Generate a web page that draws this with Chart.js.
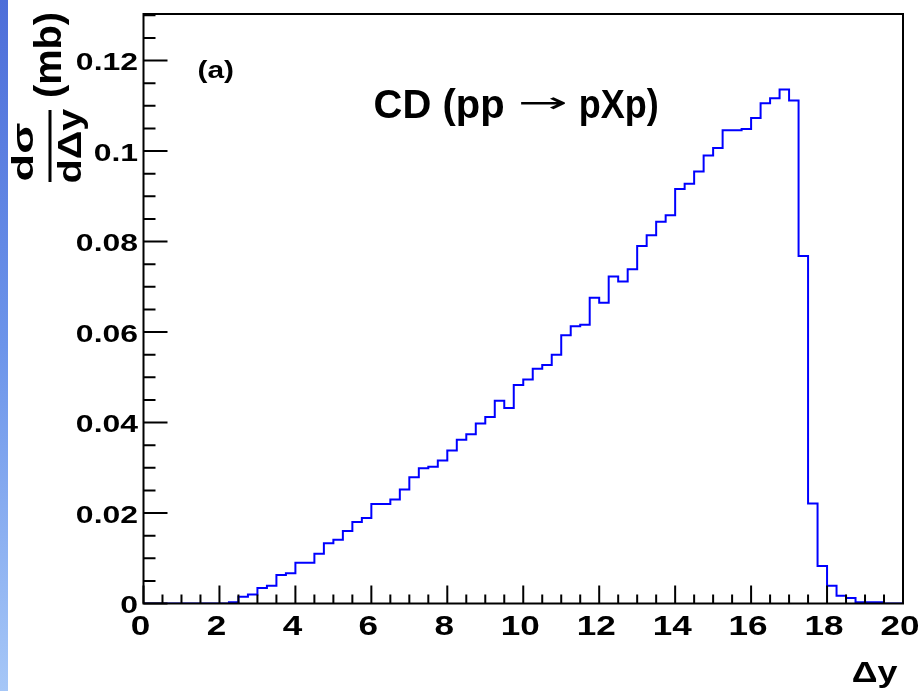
<!DOCTYPE html>
<html><head><meta charset="utf-8">
<script src="https://cdn.jsdelivr.net/npm/chart.js@4/dist/chart.umd.min.js"></script>
<style>
html,body{margin:0;padding:0;background:#fff;}
#wrap{position:relative;width:919px;height:691px;overflow:hidden;background:#fff;}
#strip{position:absolute;left:0;top:0;width:8px;height:691px;background:linear-gradient(to bottom,#4d6ed9,#6c94ea 50%,#a6c7f7);}
canvas{position:absolute;left:0;top:0;}
</style></head><body>
<div id="wrap"><canvas id="c" width="919" height="691" style="width:919px;height:691px"></canvas><div id="strip"></div></div>
<script>
// Histogram bin lower edges (Δy) and dσ/dΔy values (mb)
const binLowEdges = [
  0.00,0.25,0.50,0.75,1.00,1.25,1.50,1.75,2.00,2.25,
  2.50,2.75,3.00,3.25,3.50,3.75,4.00,4.25,4.50,4.75,
  5.00,5.25,5.50,5.75,6.00,6.25,6.50,6.75,7.00,7.25,
  7.50,7.75,8.00,8.25,8.50,8.75,9.00,9.25,9.50,9.75,
  10.00,10.25,10.50,10.75,11.00,11.25,11.50,11.75,12.00,12.25,
  12.50,12.75,13.00,13.25,13.50,13.75,14.00,14.25,14.50,14.75,
  15.00,15.25,15.50,15.75,16.00,16.25,16.50,16.75,17.00,17.25,
  17.50,17.75,18.00,18.25,18.50,18.75,19.00,19.25,19.50,19.75
];
const cdValues = [
  0,0,0,0,0,0,0,0,0,0.0003,
  0.0015,0.0020,0.0034,0.0039,0.0063,0.0067,0.0090,0.0090,0.0110,0.0133,
  0.0141,0.0160,0.0180,0.0189,0.0220,0.0220,0.0230,0.0252,0.0279,0.0299,
  0.0302,0.0316,0.0338,0.0362,0.0374,0.0398,0.0412,0.0448,0.0432,0.0483,
  0.0495,0.0519,0.0527,0.0550,0.0593,0.0613,0.0616,0.0676,0.0665,0.0723,
  0.0712,0.0739,0.0790,0.0814,0.0844,0.0858,0.0916,0.0928,0.0955,0.0990,
  0.1007,0.1046,0.1046,0.1049,0.1073,0.1106,0.1117,0.1136,0.1112,0.0768,
  0.0221,0.0083,0.0039,0.0017,0.0012,0.0003,0.0003,0.0003,0,0
];
const xMin = 0, xMax = 20;
const yMin = 0, yMax = 0.1303;
const xTickValues = [0,2,4,6,8,10,12,14,16,18,20];
const xTickLabels = ["0","2","4","6","8","10","12","14","16","18","20"];
const yTickValues = [0,0.02,0.04,0.06,0.08,0.1,0.12];
const yTickLabels = ["0","0.02","0.04","0.06","0.08","0.1","0.12"];
const titleLeft = "CD (pp";
const titleArrow = "\u2192";
const titleRight = "pXp)";
const panelText = "(a)";
const xTitle = "\u0394y";
const yTitleUnit = "(mb)";
const yTitleNum = "d\u03C3";
const yTitleDen = "d\u0394y";

const FONT = '"Liberation Sans", Arial, Helvetica, sans-serif';

const points = binLowEdges.map((x, i) => ({x: x, y: cdValues[i]}));
points.push({x: xMax, y: 0});

function fitText(ctx, text, font, x0, y0, x1, y1, rotated) {
  ctx.save();
  ctx.font = font;
  ctx.textAlign = 'left';
  ctx.textBaseline = 'alphabetic';
  const m = ctx.measureText(text);
  const inkW = m.actualBoundingBoxLeft + m.actualBoundingBoxRight;
  const inkH = m.actualBoundingBoxAscent + m.actualBoundingBoxDescent;
  if (!rotated) {
    ctx.translate(x0, y0);
    ctx.scale((x1 - x0) / inkW, (y1 - y0) / inkH);
  } else {
    ctx.translate(x0, y1);
    ctx.rotate(-Math.PI / 2);
    ctx.scale((y1 - y0) / inkW, (x1 - x0) / inkH);
  }
  ctx.fillStyle = '#000';
  ctx.fillText(text, m.actualBoundingBoxLeft, m.actualBoundingBoxAscent);
  ctx.restore();
}

function stretchText(ctx, text, font, x, yBase, sx, align) {
  ctx.save();
  ctx.font = font;
  ctx.textAlign = align;
  ctx.textBaseline = 'alphabetic';
  ctx.translate(x, yBase);
  ctx.scale(sx, 1);
  ctx.fillStyle = '#000';
  ctx.fillText(text, 0, 0);
  ctx.restore();
}

const rootStyle = {
  id: 'rootStyle',
  afterDatasetsDraw(chart) {
    const ctx = chart.ctx;
    const xs = chart.scales.x, ys = chart.scales.y;
    const L = xs.getPixelForValue(xMin), R = xs.getPixelForValue(xMax);
    const B = ys.getPixelForValue(yMin), T = ys.getPixelForValue(yMax);
    ctx.save();
    ctx.strokeStyle = '#000';
    ctx.lineWidth = 2;
    ctx.strokeRect(L, T, R - L, B - T);
    ctx.beginPath();
    for (let i = 0; i <= 40; i++) {
      const px = xs.getPixelForValue(i * 0.5);
      const len = (i % 4 === 0) ? 18 : 9;
      ctx.moveTo(px, B);
      ctx.lineTo(px, B - len);
    }
    for (let i = 0; i <= 26; i++) {
      const v = i * 0.005;
      if (v > yMax) break;
      const py = ys.getPixelForValue(v);
      const len = (i % 4 === 0) ? 24 : 12;
      ctx.moveTo(L, py);
      ctx.lineTo(L + len, py);
    }
    ctx.stroke();
    ctx.restore();

    yTickValues.forEach((v, i) => {
      const py = ys.getPixelForValue(v);
      stretchText(ctx, yTickLabels[i], 'bold 24px ' + FONT, 138, py + 9.5, 1.33, 'right');
    });
    xTickValues.forEach((v, i) => {
      const px = xs.getPixelForValue(v);
      stretchText(ctx, xTickLabels[i], 'bold 27px ' + FONT, px - 3, 635, 1.3, 'center');
    });

    fitText(ctx, titleLeft, 'bold 28px ' + FONT, 375, 90, 503, 127, false);
    fitText(ctx, titleArrow, '28px "DejaVu Sans", sans-serif', 520, 97, 567, 110, false);
    fitText(ctx, titleRight, 'bold 28px ' + FONT, 580, 90, 657, 127, false);
    fitText(ctx, panelText, 'bold 20px ' + FONT, 199, 60, 233, 83, false);
    fitText(ctx, xTitle, 'bold 28px ' + FONT, 853, 661, 898, 688, false);
    fitText(ctx, yTitleUnit, 'bold 36px ' + FONT, 32, 13, 70, 97, true);
    fitText(ctx, yTitleNum, 'bold 28px ' + FONT, 12, 123, 33, 180, true);
    fitText(ctx, yTitleDen, 'bold 28px ' + FONT, 57, 108, 88, 182, true);
    ctx.save();
    ctx.strokeStyle = '#000';
    ctx.lineWidth = 3;
    ctx.beginPath();
    ctx.moveTo(50, 110);
    ctx.lineTo(50, 182);
    ctx.stroke();
    ctx.restore();
  }
};

new Chart(document.getElementById('c').getContext('2d'), {
  type: 'line',
  data: {
    datasets: [{
      data: points,
      borderColor: '#0000ff',
      borderWidth: 2,
      stepped: true,
      pointRadius: 0,
      fill: false,
      tension: 0,
      borderJoinStyle: 'miter',
      borderCapStyle: 'butt'
    }]
  },
  options: {
    responsive: false,
    animation: false,
    devicePixelRatio: 1,
    layout: { padding: { left: 143.5, right: 16, top: 14, bottom: 87.5 } },
    scales: {
      x: { type: 'linear', min: xMin, max: xMax, display: false },
      y: { type: 'linear', min: yMin, max: yMax, display: false }
    },
    plugins: { legend: { display: false }, tooltip: { enabled: false }, title: { display: false } }
  },
  plugins: [rootStyle]
});
</script>
</body></html>
